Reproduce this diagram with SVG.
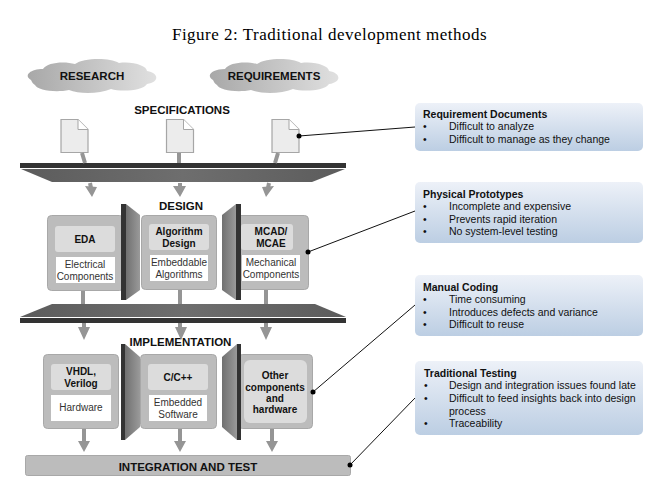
<svg xmlns="http://www.w3.org/2000/svg" width="666" height="489" viewBox="0 0 666 489">
<style>
text{font-family:"Liberation Sans",Arial,sans-serif;fill:#111}
.t{font-size:11.5px;font-weight:bold;text-anchor:middle}
.b{font-size:10px;font-weight:bold;text-anchor:middle}
.w{font-size:10px;text-anchor:middle;fill:#333}
.h{font-size:10.500px;font-weight:bold}
.n{font-size:10.500px}
.outer{fill:#bcbcbc;stroke:#a8a8a8;stroke-width:1}
.inner{fill:#dcdcdc}
.white{fill:#fff}
.doc{fill:#ececec;stroke:#a6a6a6;stroke-width:1.2}
.dark{fill:#333}
.trap{fill:url(#gt)}
.sep{fill:url(#gs)}
.note{fill:url(#gn)}
.ar{stroke:#959595;stroke-width:4;fill:none}
.ah{fill:#959595}
.cl{stroke:#111;stroke-width:1;fill:none}
.dot{fill:#000}
</style>
<defs>
<linearGradient id="gc"><stop offset="0" stop-color="#a8a8a8"/><stop offset="1" stop-color="#e0e0e0"/></linearGradient>
<linearGradient id="gt"><stop offset="0" stop-color="#5c5c5c"/><stop offset=".5" stop-color="#6e6e6e"/><stop offset="1" stop-color="#5c5c5c"/></linearGradient>
<linearGradient id="gs"><stop offset="0" stop-color="#707070"/><stop offset="1" stop-color="#9a9a9a"/></linearGradient>
<linearGradient id="gn" x1="0" y1="0" x2="0" y2="1"><stop offset="0" stop-color="#edf1f8"/><stop offset="1" stop-color="#bccee3"/></linearGradient>
<path id="cloud" d="M6 22C-2 17 6 11 18 11C22 4 40 3 50 6C58 0 84 -1 94 5C108 3 122 8 122 13C134 15 135 24 122 26C118 33 96 34 86 31C74 36 54 36 44 32C30 35 12 32 10 27C8 26 7 24 6 22Z"/>
<path id="docshape" d="M0.5 0.5H17.5L27.5 10.500V33.500H0.5Z"/>
</defs>
<text x="329.500" y="40" style="font-family:'Liberation Serif',serif;font-size:17px;text-anchor:middle;letter-spacing:.5px;fill:#000">Figure 2: Traditional development methods</text>

<g id="research"><use href="#cloud" x="25" y="58" fill="url(#gc)"/><text class="t" x="92" y="80">RESEARCH</text></g>
<g id="requirements"><use href="#cloud" x="207" y="58" fill="url(#gc)"/><text class="t" x="274" y="80">REQUIREMENTS</text></g>
<g id="specifications"><text class="t" x="182" y="114">SPECIFICATIONS</text></g>
<g id="doc1"><use href="#docshape" x="60.500" y="119" class="doc"/><path d="M78 119.500V129.500H88" fill="#fff" stroke="#a6a6a6"/></g>
<g id="doc2"><use href="#docshape" x="166" y="119" class="doc"/><path d="M183.500 119.500V129.500H193.500" fill="#fff" stroke="#a6a6a6"/></g>
<g id="doc3"><use href="#docshape" x="271.500" y="119" class="doc"/><path d="M289 119.500V129.500H299" fill="#fff" stroke="#a6a6a6"/></g>
<g id="bar-top"><rect class="dark" x="20" y="163" width="326" height="5"/><path class="trap" d="M21 169H345L312 182H52Z"/></g>

<g id="design"><text class="t" x="181" y="210">DESIGN</text></g>
<g id="eda"><rect class="outer" x="47.500" y="215.500" width="76" height="75" rx="4"/><rect class="inner" x="55" y="226" width="60" height="26" rx="3"/><text class="b" x="85" y="243">EDA</text><rect class="white" x="56" y="257" width="59" height="26"/><text class="w" x="85" y="268">Electrical</text><text class="w" x="85" y="280">Components</text></g>
<g id="algorithm"><rect class="outer" x="141.500" y="215.500" width="75" height="74" rx="4"/><rect class="inner" x="149" y="224" width="60" height="26" rx="3"/><text class="b" x="179" y="235">Algorithm</text><text class="b" x="179" y="247">Design</text><rect class="white" x="150" y="255" width="58" height="26"/><text class="w" x="179" y="266">Embeddable</text><text class="w" x="179" y="278">Algorithms</text></g>
<g id="mcad"><rect class="outer" x="235.500" y="215.500" width="73" height="74" rx="4"/><rect class="inner" x="241" y="224" width="52" height="26" rx="3"/><text class="b" x="271" y="235">MCAD/</text><text class="b" x="271" y="247">MCAE</text><rect class="white" x="242" y="255" width="58" height="26"/><text class="w" x="271" y="266">Mechanical</text><text class="w" x="271" y="278">Components</text></g>
<g id="sep-design"><rect class="dark" x="121" y="204" width="5" height="96"/><path class="sep" d="M126 204L140 215V290L126 300Z"/><rect class="dark" x="236" y="204" width="5" height="96"/><path class="sep" d="M236 204L222 215V290L236 300Z"/></g>
<g id="bar-mid"><path class="trap" d="M52 304H315L346 317H20Z"/><rect class="dark" x="20" y="318" width="326" height="5"/></g>

<g id="vhdl"><rect class="outer" x="43.500" y="354.500" width="75" height="74" rx="4"/><rect class="inner" x="51" y="364" width="60" height="26" rx="3"/><text class="b" x="81" y="375">VHDL,</text><text class="b" x="81" y="387">Verilog</text><rect class="white" x="51" y="395" width="60" height="26"/><text class="w" x="81" y="411">Hardware</text></g>
<g id="cpp"><rect class="outer" x="140.500" y="354.500" width="76" height="74" rx="4"/><rect class="inner" x="148" y="364" width="60" height="26" rx="3"/><text class="b" x="178" y="381">C/C++</text><rect class="white" x="149" y="395" width="58" height="26"/><text class="w" x="178" y="406">Embedded</text><text class="w" x="178" y="418">Software</text></g>
<g id="other"><rect class="outer" x="238.500" y="354.500" width="74" height="74" rx="4"/><rect class="inner" x="244" y="360" width="63" height="63" rx="6"/><text class="b" x="275" y="379">Other</text><text class="b" x="275" y="390.500">components</text><text class="b" x="275" y="402">and</text><text class="b" x="275" y="413">hardware</text></g>
<g id="sep-impl"><rect class="dark" x="121" y="344" width="4" height="96"/><path class="sep" d="M125 344L140 357V427L125 440Z"/><rect class="dark" x="237" y="344" width="4" height="96"/><path class="sep" d="M237 344L222 357V427L237 440Z"/></g>
<g id="implementation"><text class="t" x="180.500" y="346">IMPLEMENTATION</text></g>
<g id="integration"><rect class="outer" x="25.500" y="455.500" width="325" height="20" rx="2"/><text class="t" x="188" y="471">INTEGRATION AND TEST</text></g>

<g id="note1"><rect class="note" x="415" y="103" width="228" height="48" rx="5"/><text class="h" x="423" y="118">Requirement Documents</text><text class="n" x="423" y="130">•</text><text class="n" x="449" y="130">Difficult to analyze</text><text class="n" x="423" y="143">•</text><text class="n" x="449" y="143">Difficult to manage as they change</text></g>
<g id="note2"><rect class="note" x="415" y="182" width="228" height="61" rx="5"/><text class="h" x="423" y="198">Physical Prototypes</text><text class="n" x="423" y="210">•</text><text class="n" x="449" y="210">Incomplete and expensive</text><text class="n" x="423" y="223">•</text><text class="n" x="449" y="223">Prevents rapid iteration</text><text class="n" x="423" y="235">•</text><text class="n" x="449" y="235">No system-level testing</text></g>
<g id="note3"><rect class="note" x="415" y="275" width="228" height="61" rx="5"/><text class="h" x="423" y="291">Manual Coding</text><text class="n" x="423" y="303">•</text><text class="n" x="449" y="303">Time consuming</text><text class="n" x="423" y="316">•</text><text class="n" x="449" y="316">Introduces defects and variance</text><text class="n" x="423" y="328">•</text><text class="n" x="449" y="328">Difficult to reuse</text></g>
<g id="note4"><rect class="note" x="415" y="361" width="228" height="74" rx="5"/><text class="h" x="424" y="377">Traditional Testing</text><text class="n" x="424" y="389">•</text><text class="n" x="449" y="389">Design and integration issues found late</text><text class="n" x="424" y="402">•</text><text class="n" x="449" y="402">Difficult to feed insights back into design</text><text class="n" x="449" y="415">process</text><text class="n" x="424" y="427">•</text><text class="n" x="449" y="427">Traceability</text></g>

<g id="connectors">
<path class="ar" d="M82 153L85 163M179 153V163M278 153L275 163"/>
<path class="ar" d="M90 183L91 188M180 183V188M269 183L268 188"/>
<path class="ah" d="M85 186L97 187L92 197ZM173 186H186L180 197ZM262 187L274 186L266 197Z"/>
<path class="ar" d="M83 291V304M180 290V304M266 290V304"/>
<path class="ar" d="M84 323V328M180 323V328M266 323V328"/>
<path class="ah" d="M78 327H90L84 340ZM175 327H187L181 340ZM260 327H272L266 340Z"/>
<path class="ar" d="M84 429V445M180 429V445M272 429V445"/>
<path class="ah" d="M78 441H90L84 452ZM174 441H186L180 452ZM266 441H278L272 452Z"/>
<path class="cl" d="M299 136L415 127M308 252L415 211M313 392L415 305M350 465L415 398"/>
<circle class="dot" cx="299" cy="136" r="2.500"/><circle class="dot" cx="308" cy="252" r="2.500"/><circle class="dot" cx="313" cy="392" r="2.500"/><circle class="dot" cx="350" cy="465" r="2.500"/>
</g>
</svg>
